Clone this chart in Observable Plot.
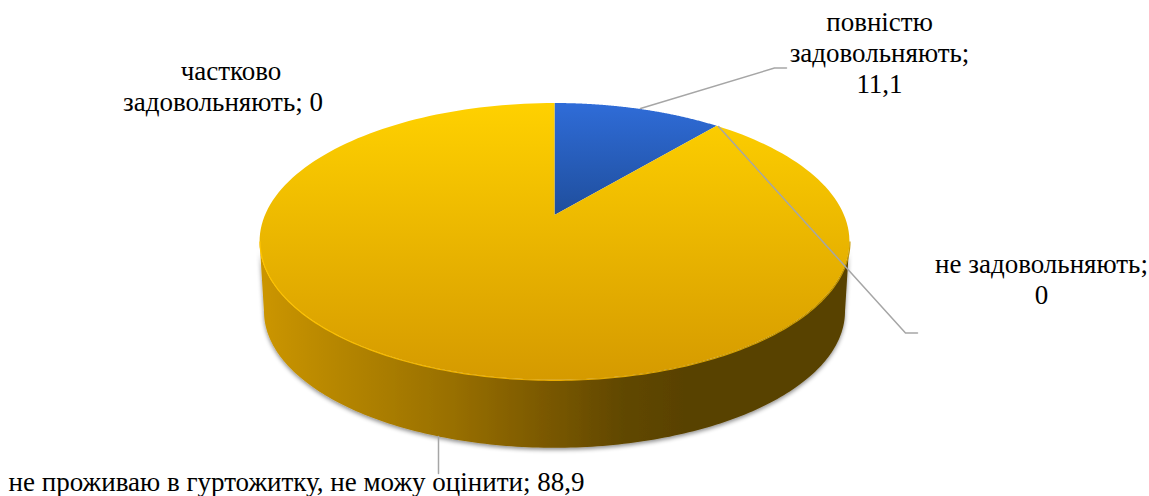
<!DOCTYPE html>
<html><head><meta charset="utf-8">
<script src="https://cdn.jsdelivr.net/npm/d3@7"></script>
<script src="https://cdn.jsdelivr.net/npm/@observablehq/plot@0.6"></script>
<style>html,body{margin:0;padding:0;background:#fff}svg{display:block}svg text{font-family:"Liberation Serif","Times New Roman",serif !important}</style>
</head><body><div id="c"></div>
<script>
const categories = ["повністю задовольняють","не задовольняють","частково задовольняють","не проживаю в гуртожитку, не можу оцінити"];
const values = [11.1, 0, 0, 88.9];
const labels = ["повністю\nзадовольняють;\n11,1","не задовольняють;\n0","частково","задовольняють; 0","не проживаю в гуртожитку, не можу оцінити; 88,9"];
const W = 1149, H = 496;

// perspective projection of the pie disc: y = (a v + b) / (1 + c v)
const cx = 554.5, apexY = 215, a = 92.3, c = -0.191, k = 289.5, midY = 241.5;
const project = (t, s = 1, dy = 0) => {
  const u = Math.sin(t), v = -Math.cos(t), d = 1 + c * v;
  const yTop = (a * v + apexY) / d;
  return {x: cx + s * k * u / d, y: dy + midY + s * (yTop - midY)};
};
const angles = d3.pie().sort(null)(values);
const arc = (s, e) => d3.range(0, 181).map(i => s + (e - s) * i / 180);
const wedges = angles.filter(d => d.value > 0).map(d => ({
  index: d.index,
  pts: arc(d.startAngle, d.endAngle).map(t => ({...project(t), x0: cx, y0: apexY}))
}));

// the visible wall runs between the two points where the projected rim is widest
const widest = Math.acos(c);
const depth = 70, baseScale = 0.985;
const wall = arc(widest, 2 * Math.PI - widest).map(t => {
  const p = project(t), q = project(t, baseScale, depth);
  return {x1: p.x, y1: p.y, x2: q.x, y2: q.y};
});
const rim = arc(widest, 2 * Math.PI - widest).map(t => project(t));

const leaders = [
  {id: 0, pts: [[640,108],[774,67.5],[786,67.5]]},
  {id: 1, pts: [[718,126],[905,332.5],[917,332.5]]},
  {id: 3, pts: [[438,436],[438,473]]}
].flatMap(l => l.pts.map(([x, y]) => ({id: l.id, x, y})));
const labelPos = [{x:879,y:92},{x:1041,y:303},{x:230.5,y:79},{x:222.5,y:110},{x:296,y:490}];
const labelData = labels.map((text, i) => ({text, ...labelPos[i]}));

const defs = () => {
  const d = d3.create("svg:defs");
  const grad = (id, attrs, stops) => {
    const g = d.append("linearGradient").attr("id", id).attr("gradientUnits", "userSpaceOnUse");
    for (const [k2, v] of Object.entries(attrs)) g.attr(k2, v);
    stops.forEach(([o, col]) => g.append("stop").attr("offset", o).attr("stop-color", col));
  };
  grad("yel", {x1:0, x2:0, y1:103, y2:380}, [[0,"#FFD100"],[1,"#D59A00"]]);
  grad("blu", {x1:0, x2:0, y1:103, y2:215}, [[0,"#2F6CD8"],[1,"#1F4E9C"]]);
  grad("side", {x1:259, x2:850, y1:0, y2:0}, [[0,"#CC9600"],[0.15,"#B38400"],[0.33,"#986F00"],[0.48,"#7B5900"],[0.62,"#604700"],[0.72,"#594200"],[1,"#594200"]]);
  grad("rimg", {x1:259, x2:850, y1:0, y2:0}, [[0,"#FFC400"],[0.5,"#EBAC00"],[1,"#C99A00"]]);
  const f = d.append("filter").attr("id","sh").attr("x","-5%").attr("y","-5%").attr("width","110%").attr("height","115%");
  f.append("feDropShadow").attr("dx",0).attr("dy",2).attr("stdDeviation",2.2).attr("flood-color","#000").attr("flood-opacity",0.45);
  return d.node();
};

const plot = Plot.plot({
  width: W, height: H, margin: 0,
  x: {domain: [0, W], range: [0, W], axis: null},
  y: {domain: [0, H], range: [0, H], axis: null},
  style: {background: "#fff", overflow: "hidden"},
  marks: [
    defs,
    Plot.area(wall, {x1:"x1", y1:"y1", x2:"x2", y2:"y2", fill:"url(#side)", render(i,s,v,d,ctx,next){const g=next(i,s,v,d,ctx); g.setAttribute("filter","url(#sh)"); return g;}}),
    ...wedges.map(w => Plot.area(w.pts, {x1:"x0", y1:"y0", x2:"x", y2:"y", fill: w.index === 0 ? "url(#blu)" : "url(#yel)"})),
    Plot.line(rim, {x:"x", y:"y", stroke:"url(#rimg)", strokeWidth:1.2}),
    Plot.line(leaders, {x:"x", y:"y", z:"id", stroke:"#A6A6A6", strokeWidth:1.5}),
    Plot.text(labelData, {x:"x", y:"y", text:"text", lineAnchor:"bottom", lineHeight:1.13, fontSize:27, fill:"#000"})
  ]
});
document.getElementById("c").append(plot);
</script></body></html>
